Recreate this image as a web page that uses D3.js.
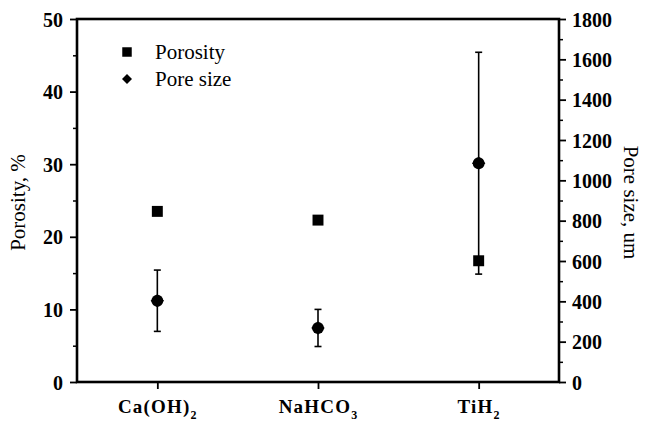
<!DOCTYPE html>
<html>
<head>
<meta charset="utf-8">
<script src="https://cdn.jsdelivr.net/npm/d3@7"></script>
<style>
  html, body { margin: 0; padding: 0; background: #fff; }
  svg { display: block; }
</style>
</head>
<body>
<svg id="chart" width="646" height="423"></svg>
<script>
// Blowing agents and measured values
const agents = ["Ca(OH)2", "NaHCO3", "TiH2"];
const agentLabels = [["Ca(OH)", "2"], ["NaHCO", "3"], ["TiH", "2"]];
const porosity = [23.5, 22.3, 16.7];          // %
const poreSize = [403, 268, 1085];            // um
const poreSizeErr = [152, 92, 550];           // um, +/-
const porosityTicks = [0, 10, 20, 30, 40, 50];
const poreTicks = [0, 200, 400, 600, 800, 1000, 1200, 1400, 1600, 1800];

const SERIF = "'Liberation Serif', 'Times New Roman', serif";

const svg = d3.select("#chart");
const m = { left: 77, right: 559, top: 19, bottom: 382 };

const x = d3.scalePoint().domain(agents).range([m.left, m.right]).padding(0.5);
const yL = d3.scaleLinear().domain([0, 50]).range([m.bottom, m.top]);
const yR = d3.scaleLinear().domain([0, 1800]).range([m.bottom, m.top]);

function styleTicks(g) {
  g.select(".domain").remove();
  g.selectAll("line").attr("stroke-width", 1.8);
  g.selectAll("text")
    .attr("font-family", SERIF).attr("font-weight", "bold").attr("font-size", 20)
    .attr("fill", "#000").attr("dy", "0.35em");
}

// minor ticks
svg.append("g").attr("transform", `translate(${m.left},0)`)
  .call(d3.axisLeft(yL).tickValues(d3.range(5, 50, 10)).tickSize(4).tickFormat(""))
  .call(g => g.select(".domain").remove())
  .call(g => g.selectAll("line").attr("stroke-width", 1.5));
svg.append("g").attr("transform", `translate(${m.right},0)`)
  .call(d3.axisRight(yR).tickValues(d3.range(100, 1800, 200)).tickSize(4).tickFormat(""))
  .call(g => g.select(".domain").remove())
  .call(g => g.selectAll("line").attr("stroke-width", 1.5));

// left axis
svg.append("g").attr("transform", `translate(${m.left},0)`)
  .call(d3.axisLeft(yL).tickValues(porosityTicks).tickSize(7).tickPadding(7).tickFormat(d3.format("d")))
  .call(styleTicks);

// right axis
svg.append("g").attr("transform", `translate(${m.right},0)`)
  .call(d3.axisRight(yR).tickValues(poreTicks).tickSize(7).tickPadding(6).tickFormat(d3.format("d")))
  .call(styleTicks);

// bottom axis with subscripted chemical formulas
const xAxis = svg.append("g").attr("transform", `translate(0,${m.bottom})`)
  .call(d3.axisBottom(x).tickSize(7).tickFormat(""))
  .call(g => g.select(".domain").remove())
  .call(g => g.selectAll("line").attr("stroke-width", 1.8));
xAxis.selectAll(".tick").each(function(d, i) {
  const t = d3.select(this).append("text")
    .attr("y", 31).attr("text-anchor", "middle")
    .attr("font-family", SERIF).attr("font-weight", "bold")
    .attr("font-size", 19).attr("letter-spacing", 1.2).attr("fill", "#000");
  t.append("tspan").text(agentLabels[i][0]);
  t.append("tspan").attr("dy", 6).attr("font-size", 12).text(agentLabels[i][1]);
});

// frame
svg.append("rect")
  .attr("x", m.left).attr("y", m.top)
  .attr("width", m.right - m.left).attr("height", m.bottom - m.top)
  .attr("fill", "none").attr("stroke", "#000").attr("stroke-width", 2.6);

// axis titles
svg.append("text")
  .attr("transform", `translate(25,${(m.top + m.bottom) / 2 + 2}) rotate(-90)`)
  .attr("text-anchor", "middle")
  .attr("font-family", SERIF).attr("font-size", 21)
  .text("Porosity, %");
svg.append("text")
  .attr("transform", `translate(624,${(m.top + m.bottom) / 2 + 2}) rotate(90)`)
  .attr("text-anchor", "middle")
  .attr("font-family", SERIF).attr("font-size", 21)
  .text("Pore size, um");

const plot = svg.append("g");

// pore size error bars
const eb = plot.selectAll(".err").data(agents).join("g").attr("class", "err");
eb.append("line")
  .attr("x1", d => x(d)).attr("x2", d => x(d))
  .attr("y1", (d, i) => yR(poreSize[i] - poreSizeErr[i]))
  .attr("y2", (d, i) => yR(poreSize[i] + poreSizeErr[i]))
  .attr("stroke", "#000").attr("stroke-width", 1.6);
[-1, 1].forEach(s => {
  eb.append("line")
    .attr("x1", d => x(d) - 3.5).attr("x2", d => x(d) + 3.5)
    .attr("y1", (d, i) => yR(poreSize[i] + s * poreSizeErr[i]))
    .attr("y2", (d, i) => yR(poreSize[i] + s * poreSizeErr[i]))
    .attr("stroke", "#000").attr("stroke-width", 1.6);
});

// pore size markers
plot.selectAll(".pore").data(agents).join("path").attr("class", "pore")
  .attr("transform", (d, i) => `translate(${x(d)},${yR(poreSize[i])})`)
  .attr("d", d3.symbol(d3.symbolCircle, 110)())
  .attr("fill", "#000");
plot.selectAll(".pore2").data(agents).join("path").attr("class", "pore2")
  .attr("transform", (d, i) => `translate(${x(d)},${yR(poreSize[i])}) rotate(45)`)
  .attr("d", d3.symbol(d3.symbolSquare, 90)())
  .attr("fill", "#000");

// porosity markers
plot.selectAll(".poro").data(agents).join("path").attr("class", "poro")
  .attr("transform", (d, i) => `translate(${x(d)},${yL(porosity[i])})`)
  .attr("d", d3.symbol(d3.symbolSquare, 120)())
  .attr("fill", "#000");

// legend
const leg = svg.append("g").attr("font-family", SERIF).attr("font-size", 21);
leg.append("path").attr("transform", "translate(127,52)")
  .attr("d", d3.symbol(d3.symbolSquare, 90)()).attr("fill", "#000");
leg.append("path").attr("transform", "translate(127,79) rotate(45)")
  .attr("d", d3.symbol(d3.symbolSquare, 50)()).attr("fill", "#000");
leg.append("text").attr("x", 155).attr("y", 59).text("Porosity");
leg.append("text").attr("x", 155).attr("y", 86).text("Pore size");
</script>
</body>
</html>
